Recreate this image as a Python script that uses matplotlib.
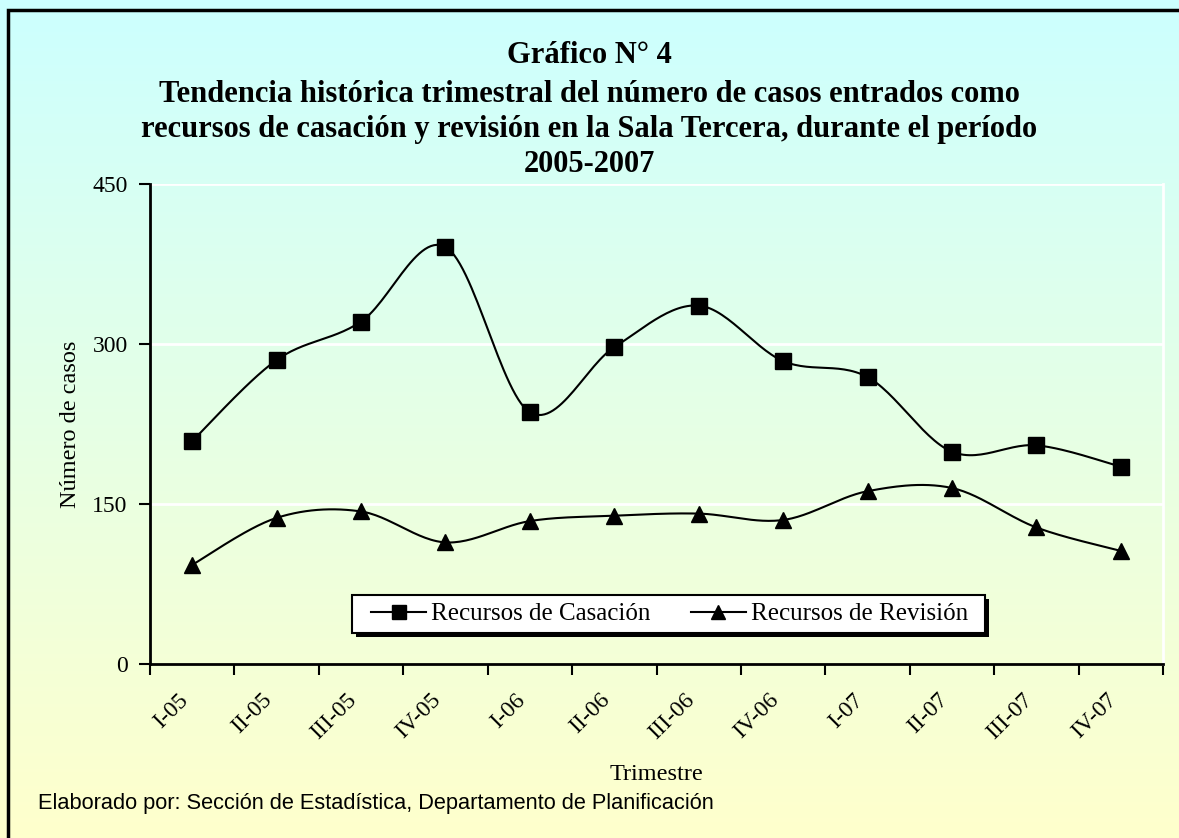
import numpy as np
import matplotlib.pyplot as plt
from matplotlib.colors import LinearSegmentedColormap
from matplotlib.patches import Rectangle

trimestres = ['I-05', 'II-05', 'III-05', 'IV-05', 'I-06', 'II-06',
              'III-06', 'IV-06', 'I-07', 'II-07', 'III-07', 'IV-07']
casacion = [209, 285, 321, 391, 236, 297, 336, 284, 269, 199, 205, 185]
revision = [93, 137, 143, 114, 134, 139, 141, 135, 162, 165, 128, 106]


def smooth(y, n=30):
    # Excel-like smoothed line: cubic bezier with catmull-rom tangents
    x = np.arange(len(y), dtype=float)
    y = np.asarray(y, dtype=float)
    xs, ys = [], []
    for i in range(len(y) - 1):
        a, b = max(i - 1, 0), min(i + 2, len(y) - 1)
        c1x = x[i] + (x[i + 1] - x[a]) / 6
        c1y = y[i] + (y[i + 1] - y[a]) / 6
        c2x = x[i + 1] - (x[b] - x[i]) / 6
        c2y = y[i + 1] - (y[b] - y[i]) / 6
        t = np.linspace(0, 1, n)
        xs.extend((1-t)**3*x[i] + 3*(1-t)**2*t*c1x + 3*(1-t)*t**2*c2x + t**3*x[i + 1])
        ys.extend((1-t)**3*y[i] + 3*(1-t)**2*t*c1y + 3*(1-t)*t**2*c2y + t**3*y[i + 1])
    return np.array(xs), np.array(ys)


fig = plt.figure(figsize=(11.79, 8.38), dpi=100)
W, H = 1179, 838

# gradient background cyan -> light yellow
bg = fig.add_axes([0, 0, 1, 1], zorder=-10)
cmap = LinearSegmentedColormap.from_list('bg', ['#ccffff', '#ffffcc'])
bg.imshow(np.linspace(0, 1, 256).reshape(-1, 1), aspect='auto', cmap=cmap,
          extent=[0, 1, 0, 1])
bg.plot([0.0068, 0.0068, 1.0], [0.0, 0.9878, 0.9878], color='black', lw=2.5,
        solid_joinstyle='miter')
bg.set_xlim(0, 1)
bg.set_ylim(0, 1)
bg.axis('off')

serif = ['Liberation Serif', 'DejaVu Serif']
ax = fig.add_axes([150 / W, 1 - 664 / H, 1013 / W, 480 / H])
ax.patch.set_alpha(0)

for v in [150, 300, 450]:
    ax.axhline(v, color='white', lw=2, zorder=0)

xc, yc = smooth(casacion)
xr, yr = smooth(revision)
x = np.arange(len(trimestres))
ax.plot(xc, yc, color='black', lw=1.5, zorder=2)
ax.plot(xr, yr, color='black', lw=1.5, zorder=2)
ax.plot(x, casacion, ls='none', marker='s', ms=11, color='black', zorder=3)
ax.plot(x, revision, ls='none', marker='^', ms=11, color='black', zorder=3)
h1, = ax.plot([], [], color='black', lw=1.5, marker='s', ms=9.5)
h2, = ax.plot([], [], color='black', lw=1.5, marker='^', ms=9.5)

ax.set_xlim(-0.5, 11.5)
ax.set_ylim(0, 450)
ax.set_yticks([0, 150, 300, 450])
ax.set_xticks(np.arange(-0.5, 12, 1))
ax.set_xticklabels([])
ax.set_xticks(x, minor=True)
ax.set_xticklabels(trimestres, minor=True, rotation=45, ha='right',
                   va='bottom', rotation_mode='anchor',
                   family=serif, fontsize=17)
ax.tick_params(axis='x', which='major', length=8, width=1.5, direction='out')
ax.tick_params(axis='x', which='minor', length=0, pad=29)
ax.tick_params(axis='y', length=8, width=1.5, pad=8, labelsize=17)
for lab in ax.get_yticklabels():
    lab.set_family(serif)

ax.spines['left'].set_linewidth(2)
ax.spines['bottom'].set_linewidth(2)
ax.spines['top'].set_visible(False)
ax.spines['right'].set_color('white')
ax.spines['right'].set_linewidth(2)

ax.set_ylabel('Número de casos', family=serif, fontsize=17.5, labelpad=8)
ax.set_xlabel('Trimestre', family=serif, fontsize=17.5, labelpad=15)

leg = ax.legend([h1, h2], ['Recursos de Casación', 'Recursos de Revisión'],
                ncol=2, loc='center', bbox_to_anchor=(0.513, 0.104),
                frameon=False, prop={'family': serif, 'size': 18},
                handlelength=2.2, handletextpad=0.2, columnspacing=1.6,
                borderpad=0.3, borderaxespad=0)
leg.set_zorder(6)

fig.text(0.5, 1 - 63 / H, 'Gráfico N° 4', ha='center', va='baseline',
         family=serif, fontsize=22, fontweight='bold')
titulo = ['Tendencia histórica trimestral del número de casos entrados como',
          'recursos de casación y revisión en la Sala Tercera, durante el período',
          '2005-2007']
for linea, base in zip(titulo, [102, 137, 172]):
    fig.text(0.5, 1 - base / H, linea, ha='center', va='baseline',
             family=serif, fontsize=22, fontweight='bold')

fig.text(0.032, 1 - 809 / H,
         'Elaborado por: Sección de Estadística, Departamento de Planificación',
         family=['Liberation Sans', 'DejaVu Sans'], fontsize=15.7, va='baseline')

# legend frame with a wider side padding and a solid shadow
fig.canvas.draw()
bb = leg.get_window_extent(fig.canvas.get_renderer())
inv = ax.transAxes.inverted()
(fx0, fy0), (fx1, fy1) = inv.transform([(bb.x0 - 12, bb.y0), (bb.x1 + 10, bb.y1)])
(sx, sy) = inv.transform((bb.x0 + 4, bb.y0 - 4)) - inv.transform((bb.x0, bb.y0))
ax.add_patch(Rectangle((fx0 + sx, fy0 + sy), fx1 - fx0, fy1 - fy0,
                       transform=ax.transAxes, facecolor='black',
                       edgecolor='none', zorder=4.4))
ax.add_patch(Rectangle((fx0, fy0), fx1 - fx0, fy1 - fy0,
                       transform=ax.transAxes, facecolor='white',
                       edgecolor='black', lw=1.5, zorder=4.5))

fig.savefig('out.png', dpi=100)
